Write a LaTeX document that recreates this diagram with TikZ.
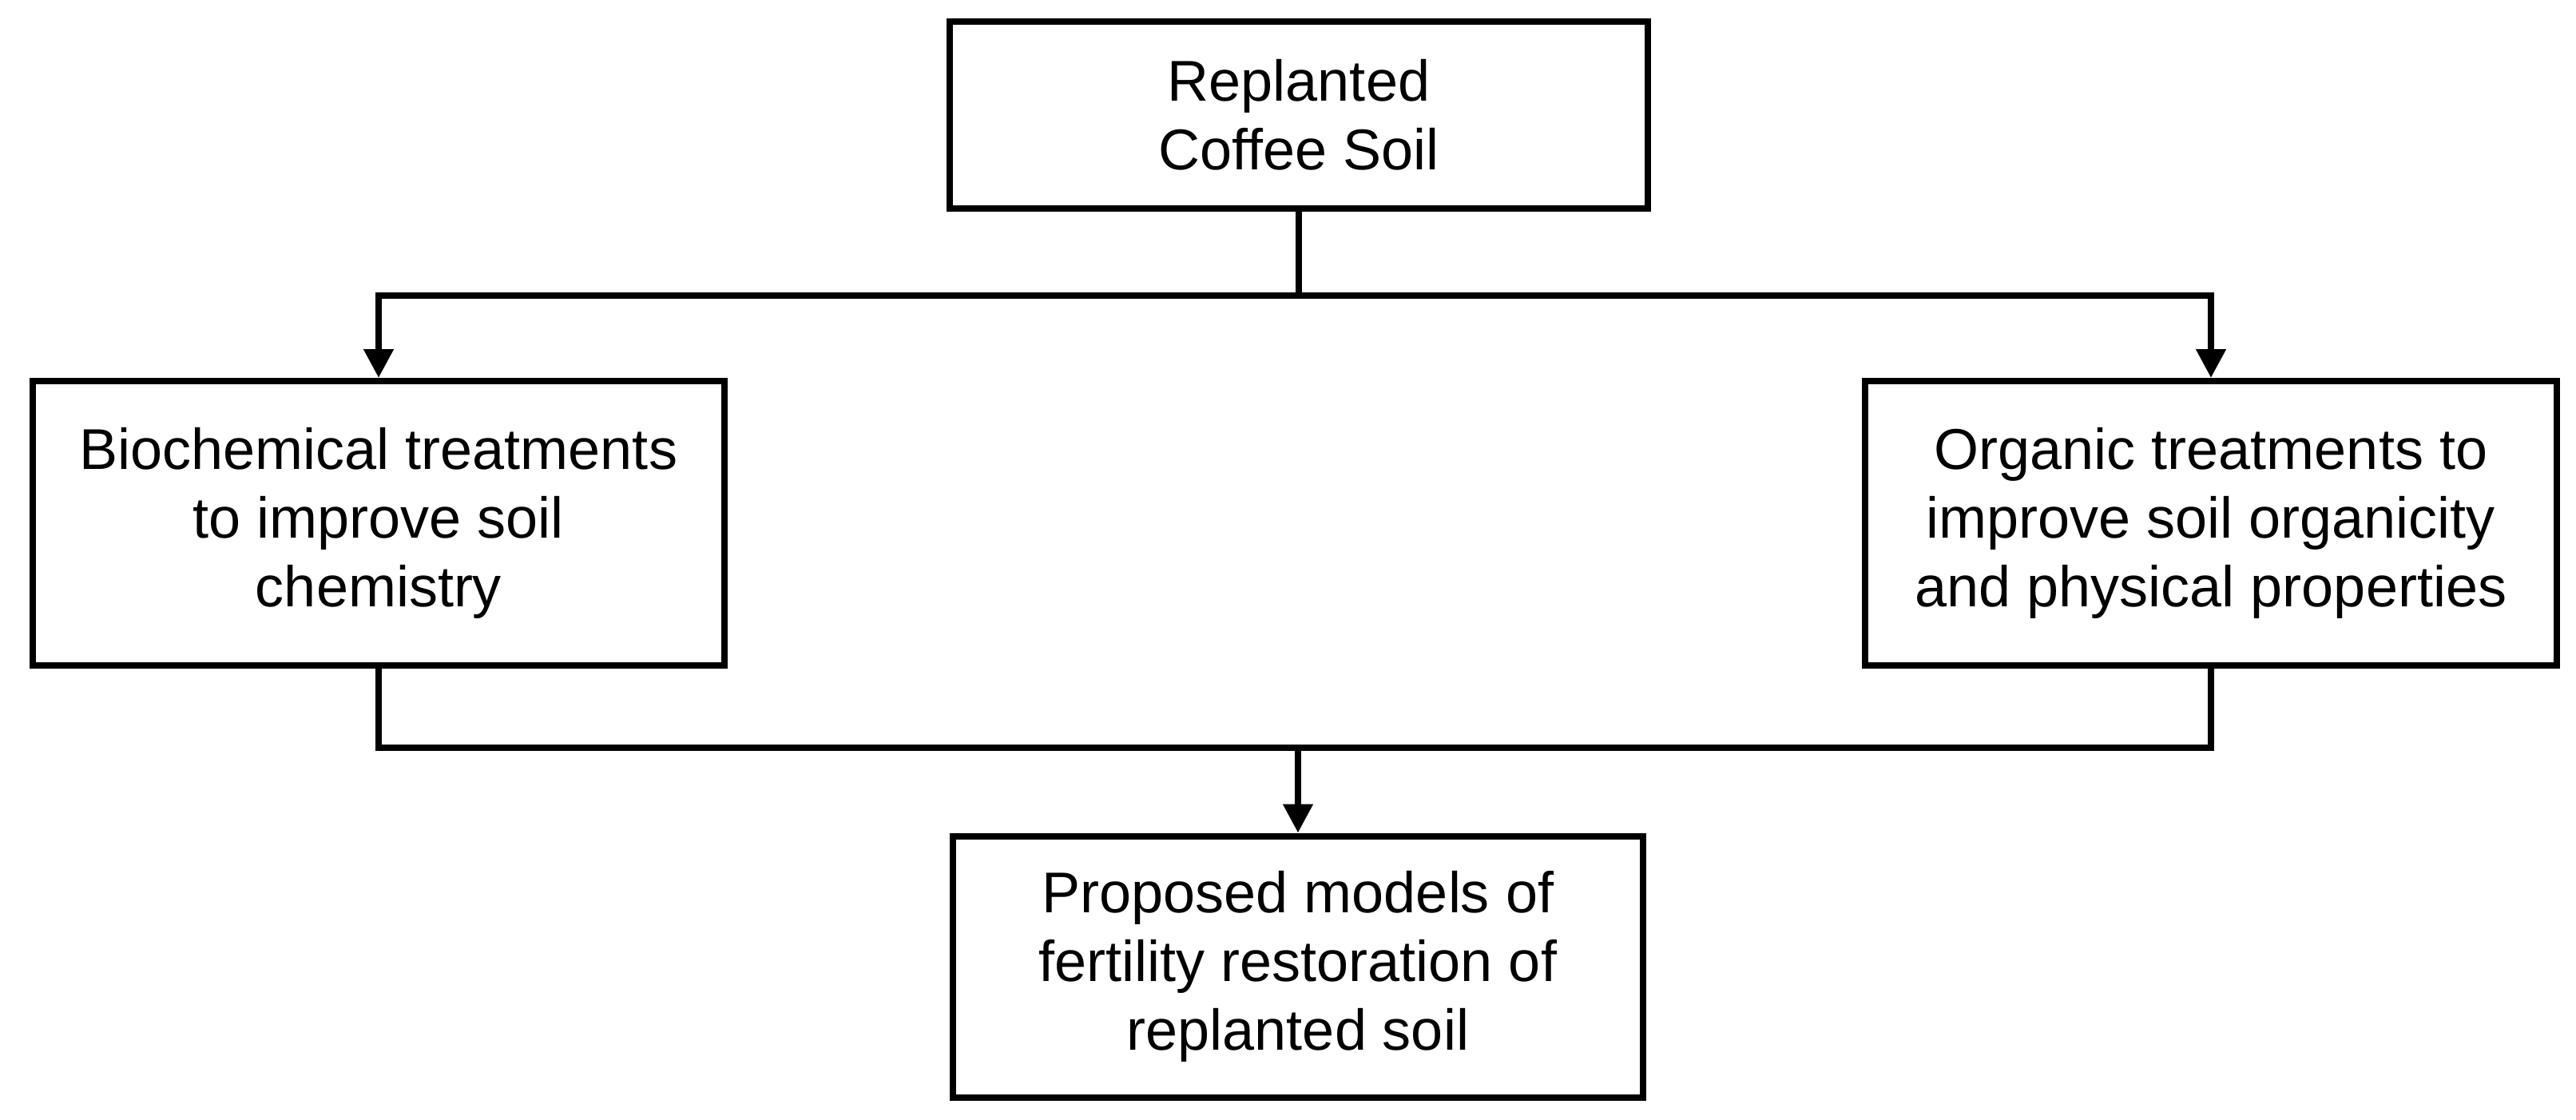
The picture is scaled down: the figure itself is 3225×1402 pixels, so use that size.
\documentclass[tikz,border=0pt]{standalone}
\usepackage{fontspec}
\setmainfont{Liberation Sans}
\usetikzlibrary{arrows.meta}
\begin{document}
\begin{tikzpicture}[x=0.25pt,y=-0.25pt,
  box/.style={draw,line width=2pt,align=center,font=\fontsize{18}{21.5}\selectfont,inner sep=0pt},
  con/.style={line width=2pt},
  arr/.style={con,-{Triangle[length=9pt,width=9pt]}}]
\useasboundingbox (0,0) rectangle (3225,1402);
\node[box,minimum width=218.5pt,minimum height=58.5pt] (top) at (1626,144) {Replanted\\Coffee Soil};
\node[box,minimum width=216.5pt,minimum height=89pt] (left) at (474,655) {Biochemical treatments\\to improve soil\\chemistry};
\node[box,minimum width=216.5pt,minimum height=89pt] (right) at (2768,655) {Organic treatments to\\improve soil organicity\\and physical properties};
\node[box,minimum width=216pt,minimum height=81.75pt] (bot) at (1625,1210) {Proposed models of\\fertility restoration of\\replanted soil};
\coordinate (j1) at (1626,370);
\coordinate (j2) at (1625,936);
\draw[con] (top.south) -- (j1);
\draw[arr] (j1) -| (left.north);
\draw[arr] (j1) -| (right.north);
\draw[con] (left.south) |- (j2);
\draw[con] (right.south) |- (j2);
\draw[arr] (j2) -- (bot.north);
\end{tikzpicture}
\end{document}
